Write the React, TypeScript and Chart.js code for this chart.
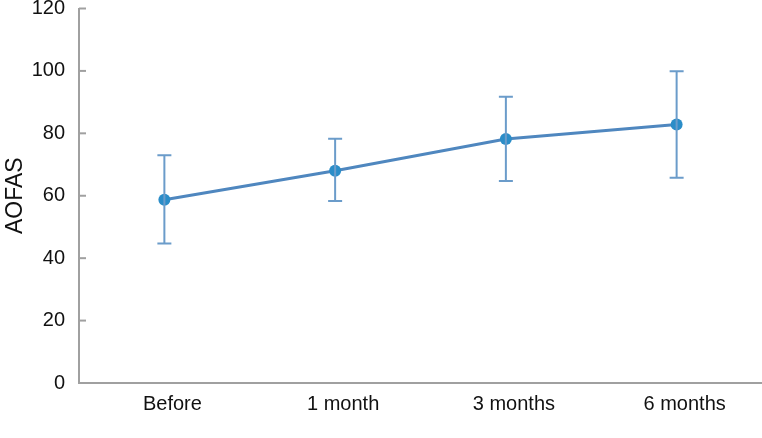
import React, { useEffect, useRef } from "react";
import { Chart, registerables } from "chart.js";

Chart.register(...registerables);

const categories = ["Before", "1 month", "3 months", "6 months"];
const means = [58.7, 68.0, 78.2, 82.8];
const upper = [73.0, 78.3, 91.7, 99.9];
const lower = [44.7, 58.3, 64.7, 65.8];
const yTicks = [0, 20, 40, 60, 80, 100, 120];

const errorBarPlugin = {
  id: "errorBars",
  afterDatasetsDraw(chart: any) {
    const ctx = chart.ctx;
    const x = chart.scales.x;
    const y = chart.scales.y;
    ctx.save();
    ctx.strokeStyle = "#6b9cca";
    ctx.lineWidth = 2;
    categories.forEach((_, i) => {
      const px = x.getPixelForValue(i);
      const pu = y.getPixelForValue(upper[i]);
      const pl = y.getPixelForValue(lower[i]);
      ctx.beginPath();
      ctx.moveTo(px, pu);
      ctx.lineTo(px, pl);
      ctx.moveTo(px - 7, pu);
      ctx.lineTo(px + 7, pu);
      ctx.moveTo(px - 7, pl);
      ctx.lineTo(px + 7, pl);
      ctx.stroke();
    });
    ctx.restore();
  },
  beforeDatasetsDraw(chart: any) {
    const ctx = chart.ctx;
    const y = chart.scales.y;
    const left = chart.chartArea.left;
    ctx.save();
    ctx.strokeStyle = "#a0a0a0";
    ctx.lineWidth = 2;
    yTicks.forEach((v) => {
      if (v === 0) return;
      const py = y.getPixelForValue(v);
      ctx.beginPath();
      ctx.moveTo(left, py);
      ctx.lineTo(left + 7, py);
      ctx.stroke();
    });
    ctx.restore();
  },
};

export default function App() {
  const ref = useRef<HTMLCanvasElement>(null);
  useEffect(() => {
    if (!ref.current) return;
    const chart = new Chart(ref.current, {
      type: "line",
      data: {
        labels: categories,
        datasets: [
          {
            data: means,
            borderColor: "#4f87bf",
            borderWidth: 3,
            pointBackgroundColor: "#2b8dc8",
            pointBorderColor: "#2b8dc8",
            pointRadius: 6,
            pointBorderWidth: 0,
            tension: 0,
          },
        ],
      },
      options: {
        animation: false,
        responsive: true,
        maintainAspectRatio: false,
        layout: { autoPadding: false, padding: { top: 8.5, right: 0, left: 0, bottom: 0 } },
        plugins: { legend: { display: false }, tooltip: { enabled: false } },
        scales: {
          x: {
            offset: true,
            grid: { display: false, drawTicks: false },
            border: { color: "#a0a0a0", width: 2 },
            ticks: {
              color: "#111",
              padding: 9,
              labelOffset: 8,
              font: { family: "'Liberation Sans', Arial, sans-serif", size: 20 },
            },
            afterFit: (s: any) => {
              s.height = 55;
              s.paddingLeft = 0;
              s.paddingRight = 0;
            },
          },
          y: {
            min: 0,
            max: 120,
            grid: { display: false, drawTicks: false },
            border: { color: "#a0a0a0", width: 2 },
            ticks: {
              stepSize: 20,
              color: "#111",
              padding: 14,
              font: { family: "'Liberation Sans', Arial, sans-serif", size: 20 },
            },
            title: {
              display: true,
              text: "AOFAS",
              color: "#111",
              padding: { top: 2, bottom: 0 },
              font: { family: "'Liberation Sans', Arial, sans-serif", size: 23 },
            },
            afterFit: (s: any) => {
              s.width = 79;
              s.paddingTop = 0;
              s.paddingBottom = 0;
            },
          },
        },
      },
      plugins: [errorBarPlugin],
    });
    return () => chart.destroy();
  }, []);
  return (
    <div style={{ position: "absolute", left: 0, top: 0, width: 762, height: 438 }}>
      <canvas ref={ref} />
    </div>
  );
}
